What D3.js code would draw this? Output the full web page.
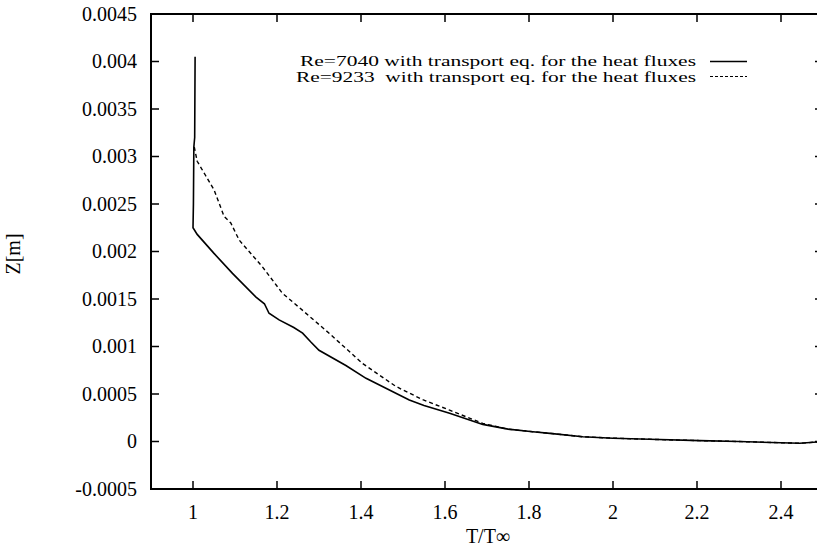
<!DOCTYPE html>
<html lang="en">
<head>
<meta charset="UTF-8">
<title>Z vs T/Too</title>
<script src="https://d3js.org/d3.v7.min.js"></script>
<style>
  body { margin: 0; background: #fff; }
  svg text { font-family: "Liberation Serif", "Times New Roman", serif; fill: #000; }
  .tick-label { font-size: 20px; }
  .legend-label { font-size: 14px; white-space: pre; }
</style>
</head>
<body>
<div id="chart"></div>
<script>
// series: [T/Too, Z]
const re7040 = [
  [1.005, 0.00405], [1.004, 0.0032], [1.002, 0.0031], [1.001, 0.0025], [1.0, 0.00225],
  [1.01, 0.00218], [1.05, 0.00198], [1.094, 0.00177], [1.15, 0.00152], [1.17, 0.00145],
  [1.181, 0.00135], [1.205, 0.00128], [1.24, 0.0012], [1.261, 0.00114], [1.28, 0.00105],
  [1.30, 0.00096], [1.364, 0.0008], [1.412, 0.000665], [1.483, 0.000507], [1.515, 0.000437],
  [1.55, 0.00038], [1.611, 0.000297], [1.69, 0.00018], [1.75, 0.00013], [1.809, 0.000103],
  [1.85, 0.000086], [1.928, 0.00005], [2.0, 0.000035], [2.087, 0.000023], [2.207, 0.000009],
  [2.3, 0.0], [2.445, -0.000019], [2.5, 0.0]
];
const re9233 = [
  [1.003, 0.0031], [1.01, 0.00295], [1.03, 0.0028], [1.05, 0.00265], [1.074, 0.00237],
  [1.09, 0.0023], [1.11, 0.00212], [1.165, 0.00184], [1.213, 0.00156], [1.261, 0.00138],
  [1.324, 0.00114], [1.404, 0.00082], [1.483, 0.00058], [1.547, 0.00044], [1.611, 0.00033],
  [1.69, 0.00019], [1.75, 0.00013], [1.809, 0.000103], [1.85, 0.000086], [1.928, 0.00005],
  [2.0, 0.000035], [2.087, 0.000023], [2.207, 0.000009], [2.3, 0.0], [2.445, -0.000019], [2.5, 0.0]
];
const xTicks = [1, 1.2, 1.4, 1.6, 1.8, 2, 2.2, 2.4];
const yTicks = [-0.0005, 0, 0.0005, 0.001, 0.0015, 0.002, 0.0025, 0.003, 0.0035, 0.004, 0.0045];
const legendNames = ["Re=7040 with transport eq. for the heat fluxes",
                     "Re=9233  with transport eq. for the heat fluxes"];

const width = 817, height = 550;
const plotL = 151, plotR = 823, plotT = 14, plotB = 489;

const svg = d3.select("#chart").append("svg")
  .attr("width", width).attr("height", height);

const x = d3.scaleLinear().domain([0.9, 2.5]).range([plotL, plotR]);
const y = d3.scaleLinear().domain([-0.0005, 0.0045]).range([plotB, plotT]);

// frame
svg.append("rect")
  .attr("x", plotL).attr("y", plotT)
  .attr("width", plotR - plotL).attr("height", plotB - plotT)
  .attr("fill", "none").attr("stroke", "#000").attr("stroke-width", 2);

const tl = 8;
// x ticks, bottom and mirrored on top
xTicks.forEach(t => {
  svg.append("line").attr("x1", x(t)).attr("x2", x(t))
    .attr("y1", plotB).attr("y2", plotB - tl).attr("stroke", "#000").attr("stroke-width", 1.5);
  svg.append("line").attr("x1", x(t)).attr("x2", x(t))
    .attr("y1", plotT).attr("y2", plotT + tl).attr("stroke", "#000").attr("stroke-width", 1.5);
  svg.append("text").attr("class", "tick-label")
    .attr("x", x(t)).attr("y", 519).attr("text-anchor", "middle")
    .text(String(t));
});

// y ticks, left and mirrored on right
yTicks.forEach(t => {
  svg.append("line").attr("x1", plotL).attr("x2", plotL + tl)
    .attr("y1", y(t)).attr("y2", y(t)).attr("stroke", "#000").attr("stroke-width", 1.5);
  svg.append("line").attr("x1", plotR).attr("x2", plotR - tl)
    .attr("y1", y(t)).attr("y2", y(t)).attr("stroke", "#000").attr("stroke-width", 1.5);
  svg.append("text").attr("class", "tick-label")
    .attr("x", 137).attr("y", y(t)).attr("dy", "0.33em").attr("text-anchor", "end")
    .text(t === 0 ? "0" : String(+t.toFixed(4)));
});

// axis titles
svg.append("text").attr("class", "tick-label")
  .attr("x", 488).attr("y", 543).attr("text-anchor", "middle").text("T/T\u221E");
svg.append("text").attr("class", "tick-label")
  .attr("transform", "translate(20,254) rotate(-90)")
  .attr("text-anchor", "middle").text("Z[m]");

const line = d3.line().x(d => x(d[0])).y(d => y(d[1]));

svg.append("path").datum(re7040)
  .attr("d", line).attr("fill", "none").attr("stroke", "#000").attr("stroke-width", 1.6);
svg.append("path").datum(re9233)
  .attr("d", line).attr("fill", "none").attr("stroke", "#000").attr("stroke-width", 1.4)
  .attr("stroke-dasharray", "4,3");

// legend
const legTextY = [66, 82];
const legLineY = [61.5, 76.5];
const legWidths = [396, 400];
legendNames.forEach((name, i) => {
  svg.append("text").attr("class", "legend-label")
    .attr("x", 696).attr("y", legTextY[i]).attr("text-anchor", "end")
    .attr("textLength", legWidths[i]).attr("lengthAdjust", "spacingAndGlyphs")
    .attr("xml:space", "preserve").text(name);
  svg.append("line").attr("x1", 710).attr("x2", 747)
    .attr("y1", legLineY[i]).attr("y2", legLineY[i])
    .attr("stroke", "#000").attr("stroke-width", i === 0 ? 1.6 : 1.2)
    .attr("stroke-dasharray", i === 0 ? null : "3,2");
});
</script>
</body>
</html>
